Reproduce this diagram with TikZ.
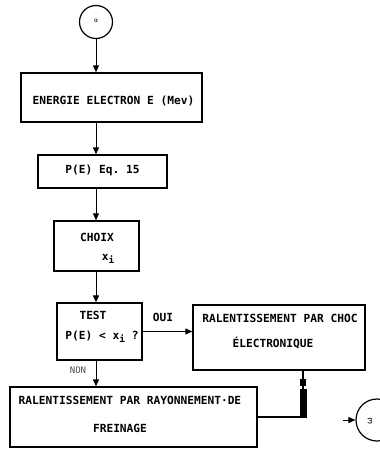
\documentclass[tikz,border=0pt]{standalone}
\usepackage{fontspec}
\setmonofont{DejaVu Sans Mono}
\newfontfamily\symfont{DejaVu Sans}
\usetikzlibrary{arrows.meta,calc}
\newcommand\subidx[1]{\raisebox{-3.5pt}{\fontsize{9.5}{9.5}\selectfont #1}}
\tikzset{
  boxnode/.style={draw, line width=1.3pt, minimum width=#1, inner sep=0pt},
  txt/.style={font=\ttfamily\bfseries\fontsize{11.2}{13}\selectfont, inner sep=0pt, anchor=base},
  flow/.style={line width=1pt, -{Triangle[length=7pt,width=6pt]}},
  conn/.style={line width=1.2pt},
  circnode/.style={draw, circle, line width=1.2pt, inner sep=0pt}
}
\begin{document}
\begin{tikzpicture}[x=1pt,y=-1pt]
\useasboundingbox (0,0) rectangle (380,453);
% circles
\node[circnode, minimum size=33pt] (alpha) at (96,22) {};
\node[font=\symfont\fontsize{6}{6}\selectfont] (alphatxt) at (96,21) {α};
\node[circnode, minimum size=42pt] (omega) at (377,420) {};
\node[font=\symfont\fontsize{8}{8}\selectfont, rotate=90] (omegatxt) at (370,421) {ω};
% boxes
\node[boxnode=181pt, minimum height=49pt] (energie) at (111.5,97.5) {};
\node[boxnode=129pt, minimum height=33pt] (pe) at (102.5,171.5) {};
\node[boxnode=85pt, minimum height=50pt] (choix) at (96.5,246) {};
\node[boxnode=85pt, minimum height=57pt] (test) at (99.5,331.5) {};
\node[boxnode=172pt, minimum height=65pt] (choc) at (279,337.5) {};
\node[boxnode=247pt, minimum height=60pt] (frein) at (133.5,417) {};
% texts
\node[txt] (t1) at (113.5,104) {ENERGIE ELECTRON E (Mev)};
\node[txt] (t2) at (102.5,173) {P(E) Eq. 15};
\node[txt] (t3) at (97,241) {CHOIX};
\node[txt] (t4) at (108,260) {x\subidx{i}};
\node[txt] (t5) at (93,319) {TEST};
\node[txt] (t6) at (102,339) {P(E) < x\subidx{i} ?};
\node[txt] (t7) at (163,321) {OUI};
\node[txt] (t8) at (280,322) {RALENTISSEMENT PAR CHOC};
\node[txt] (t9) at (273,347) {ÉLECTRONIQUE};
\node[txt, font=\ttfamily\fontsize{9}{10}\selectfont, text=black!70] (t10) at (78,373) {NON};
\node[txt] (t11) at (130,404) {RALENTISSEMENT PAR RAYONNEMENT·DE};
\node[txt] (t12) at (120,432) {FREINAGE};
% connectors
\draw[flow] (alpha.south) -- (alpha.south |- energie.north);
\draw[flow] (energie.south -| alpha) -- (pe.north -| alpha);
\draw[flow] (pe.south -| alpha) -- (choix.north -| alpha);
\draw[flow] (choix.south -| alpha) -- (test.north -| alpha);
\draw[flow] (test.south -| alpha) -- (frein.north -| alpha);
\draw[flow] (test.east) -- (test.east -| choc.west);
\coordinate (cj) at ([xshift=24pt]choc.south);
\draw[conn] (cj) |- (frein.east);
\draw[line width=6pt] ($(cj)+(0,8)$) -- ($(cj)+(0,15)$);
\draw[line width=7pt] ($(cj)+(0,18)$) -- ($(cj)+(0,47)$);
\coordinate (oin) at (343,420);
\draw[flow] (oin) -- (omega.west);
\end{tikzpicture}
\end{document}
